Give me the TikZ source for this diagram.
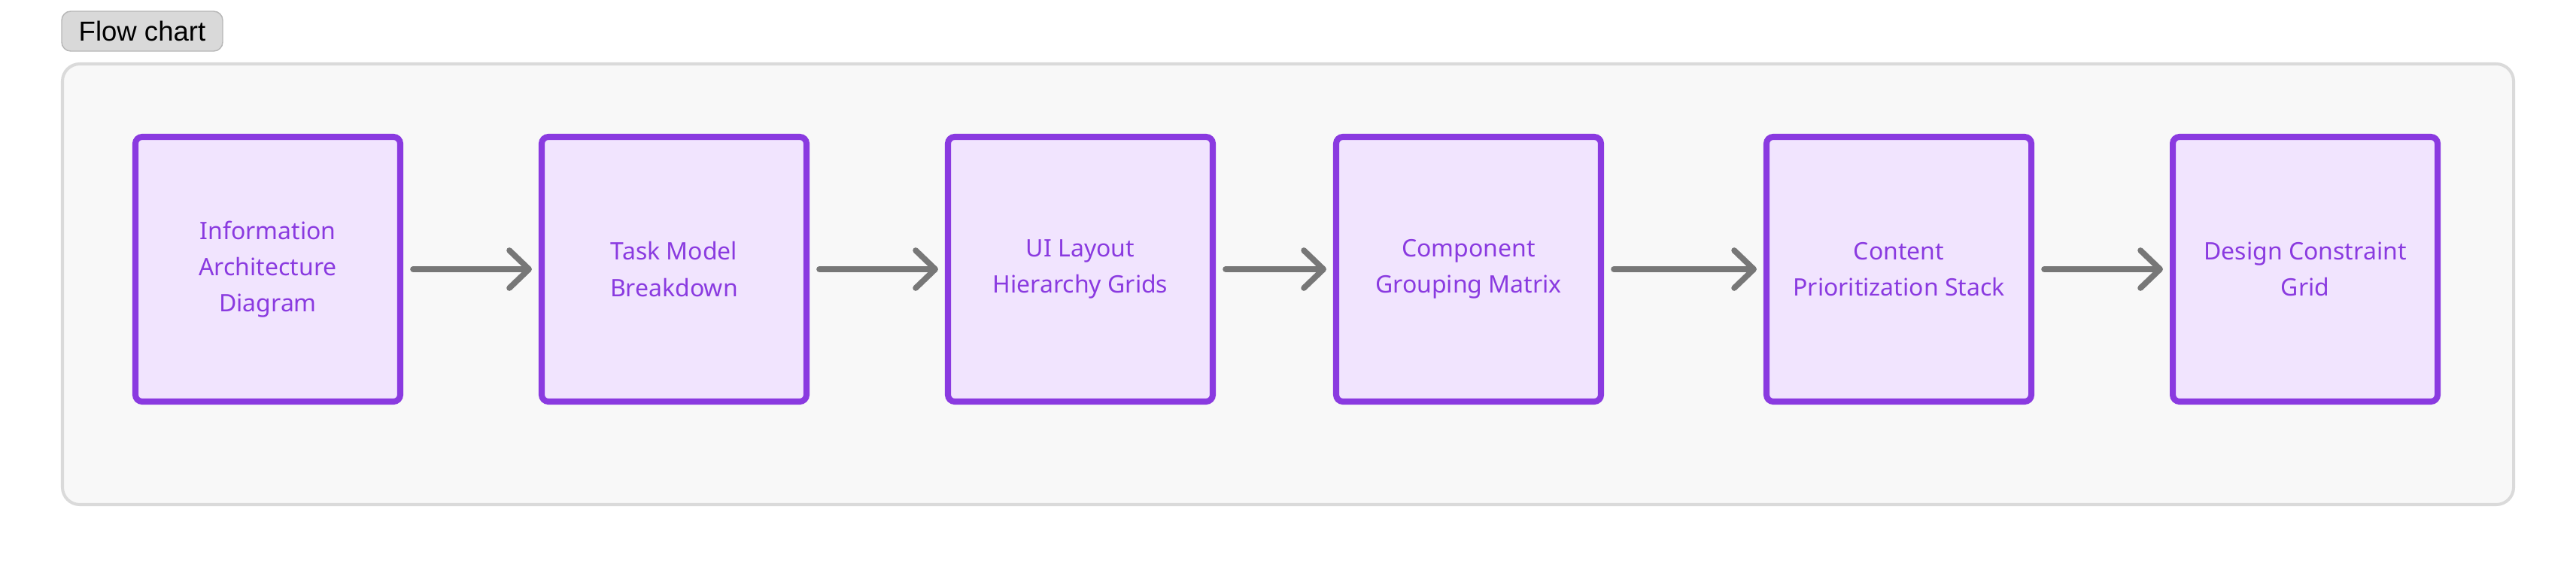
\documentclass[tikz,border=0pt]{standalone}
\usepackage{fontspec}
\setmainfont{Noto Sans}
\newfontfamily\tagfont{Liberation Sans}
\usetikzlibrary{arrows.meta}
\definecolor{PanelFill}{HTML}{F8F8F8}
\definecolor{PanelEdge}{HTML}{DADADA}
\definecolor{TagFill}{HTML}{D9D9D9}
\definecolor{TagEdge}{HTML}{B6B6B6}
\definecolor{StepFill}{HTML}{F1E4FE}
\definecolor{StepEdge}{HTML}{8A3AE0}
\definecolor{ArrowGray}{HTML}{777777}

\begin{document}
\begin{tikzpicture}[
    stepbox/.style={rectangle,rounded corners=0.9mm,draw=StepEdge,fill=StepFill,line width=2.3pt,minimum width=3.52cm,minimum height=3.52cm,inner sep=0pt,align=center,text=StepEdge,font=\fontsize{9.1}{13.7}\selectfont},
    flowarrow/.style={ArrowGray,line width=2.2pt,line cap=round,-{Straight Barb[length=2.6mm,width=5mm,round]},shorten <=1.3mm,shorten >=0.9mm}]
    \useasboundingbox (0,0) rectangle (34.24,-7.54);
    \node[rectangle,rounded corners=2.3mm,draw=PanelEdge,fill=PanelFill,line width=1.15pt,minimum width=32.58cm,minimum height=5.86cm,inner sep=0pt] (panel) at (17.12,-3.78) {};
    \node[rectangle,rounded corners=1.2mm,draw=TagEdge,fill=TagFill,line width=0.4pt,minimum width=2.14cm,minimum height=0.53cm,inner sep=0pt,font=\tagfont\fontsize{10.4}{12}\selectfont] (tag) at (1.89,-0.415) {Flow chart};
    \node[stepbox] (ia) at (3.56,-3.58) {Information\\Architecture\\Diagram};
    \node[stepbox] (tm) at (8.96,-3.58) {Task Model\\Breakdown};
    \node[stepbox] (ui) at (14.36,-3.58) {UI Layout\\Hierarchy Grids};
    \node[stepbox] (cg) at (19.52,-3.58) {Component\\Grouping Matrix};
    \node[stepbox] (cp) at (25.24,-3.58) {Content\\Prioritization Stack};
    \node[stepbox] (dc) at (30.64,-3.58) {Design Constraint\\Grid};
    \foreach \a/\b in {ia/tm,tm/ui,ui/cg,cg/cp,cp/dc}{
      \draw[flowarrow] (\a) -- (\b);
    }
\end{tikzpicture}
\end{document}
